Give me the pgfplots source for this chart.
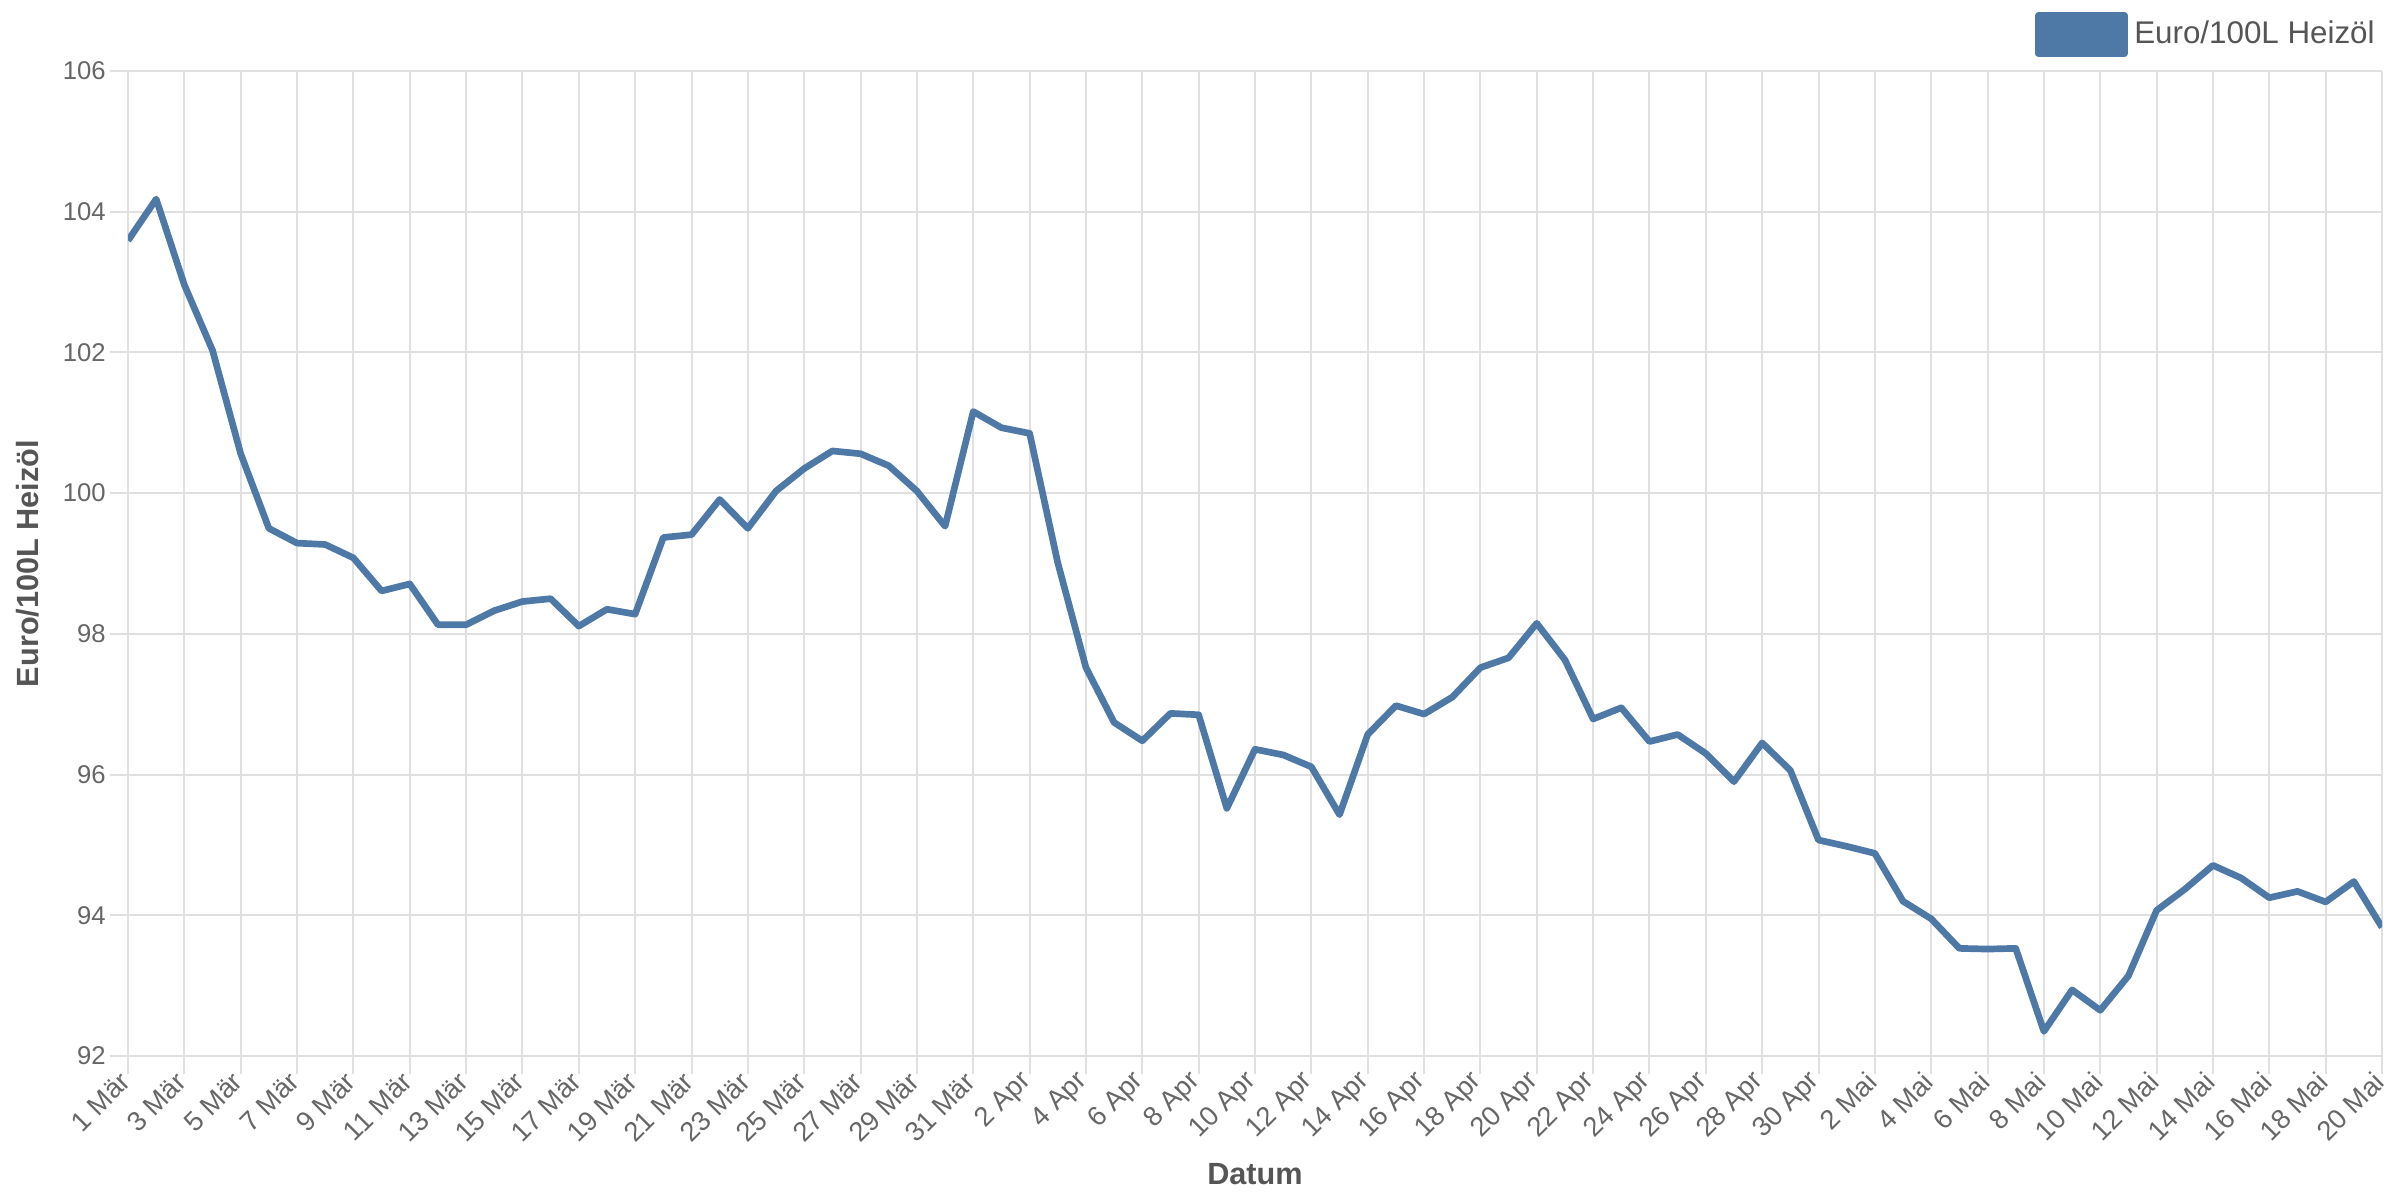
\documentclass[border=0pt]{standalone}
\usepackage{pgfplots}
\pgfplotsset{compat=1.18}
\usepackage{fontspec}
\setmainfont{Liberation Sans}
\definecolor{tabblue}{HTML}{4E79A7}
\definecolor{txtgray}{HTML}{666666}
\definecolor{lblgray}{HTML}{555555}
\definecolor{gridgray}{HTML}{E0E0E0}
\begin{document}
\begin{tikzpicture}
\begin{axis}[
  at={(0,0)}, anchor=south west,
  scale only axis,
  width=676.2pt, height=295.5pt,
  xmin=0, xmax=80, ymin=92, ymax=106,
  ytick={92,94,...,106},
  xtick={0,2,...,80},
  xticklabels={1 Mär,3 Mär,5 Mär,7 Mär,9 Mär,11 Mär,13 Mär,15 Mär,17 Mär,19 Mär,21 Mär,23 Mär,25 Mär,27 Mär,29 Mär,31 Mär,2 Apr,4 Apr,6 Apr,8 Apr,10 Apr,12 Apr,14 Apr,16 Apr,18 Apr,20 Apr,22 Apr,24 Apr,26 Apr,28 Apr,30 Apr,2 Mai,4 Mai,6 Mai,8 Mai,10 Mai,12 Mai,14 Mai,16 Mai,18 Mai,20 Mai},
  /pgf/number format/assume math mode=true,
  yticklabel style={font=\fontsize{7.7}{9}\selectfont, text=txtgray, inner sep=1pt},
  xticklabel style={font=\fontsize{8.2}{9}\selectfont, text=txtgray, rotate=45, anchor=east, inner sep=1pt},
  grid=major,
  major grid style={draw=gridgray, line width=0.6pt},
  axis line style={draw=none},
  tick pos=left,
  tick align=outside,
  major tick length=5.5pt,
  tick style={draw=gridgray, line width=0.6pt},
  xlabel={\textbf{Datum}},
  ylabel={\textbf{Euro/100L Heizöl}},
  xlabel style={font=\fontsize{9.2}{11}\selectfont, text=lblgray, at={(axis description cs:0.5,0)}, anchor=center, yshift=-35.4pt},
  ylabel style={font=\fontsize{9.2}{11}\selectfont, text=lblgray, at={(axis description cs:-0.0444,0.5)}, anchor=center, rotate=0},
  legend style={at={(1,1)}, anchor=south east, yshift=4pt, draw=none, fill=none, inner sep=0pt, font=\fontsize{9.4}{11}\selectfont, text=lblgray, legend cell align=left},
  legend image code/.code={\fill[tabblue] (0pt,-5.7pt) rectangle (25.8pt,5.7pt);},
]
\addplot[color=tabblue, line width=2pt, line join=round, mark=none] coordinates {
(0,103.59) (1,104.18) (2,102.96) (3,102.03) (4,100.56) (5,99.50) (6,99.29) (7,99.27) (8,99.08) (9,98.61)
(10,98.71) (11,98.13) (12,98.13) (13,98.33) (14,98.46) (15,98.50) (16,98.11) (17,98.35) (18,98.28) (19,99.37)
(20,99.41) (21,99.91) (22,99.50) (23,100.03) (24,100.35) (25,100.60) (26,100.56) (27,100.39) (28,100.03) (29,99.53)
(30,101.16) (31,100.93) (32,100.85) (33,99.01) (34,97.52) (35,96.74) (36,96.48) (37,96.87) (38,96.85) (39,95.52)
(40,96.36) (41,96.28) (42,96.11) (43,95.43) (44,96.57) (45,96.98) (46,96.86) (47,97.10) (48,97.52) (49,97.66)
(50,98.15) (51,97.63) (52,96.79) (53,96.95) (54,96.47) (55,96.57) (56,96.30) (57,95.90) (58,96.45) (59,96.06)
(60,95.07) (61,94.98) (62,94.88) (63,94.20) (64,93.95) (65,93.53) (66,93.52) (67,93.53) (68,92.35) (69,92.94)
(70,92.65) (71,93.14) (72,94.07) (73,94.37) (74,94.71) (75,94.53) (76,94.25) (77,94.34) (78,94.19) (79,94.48)
(80,93.83)
};
\addlegendentry{Euro/100L Heizöl}
\end{axis}
\pgfresetboundingbox
\path[use as bounding box] (-38.4pt,-43.2pt) rectangle (681.6pt,316.8pt);
\end{tikzpicture}
\end{document}
